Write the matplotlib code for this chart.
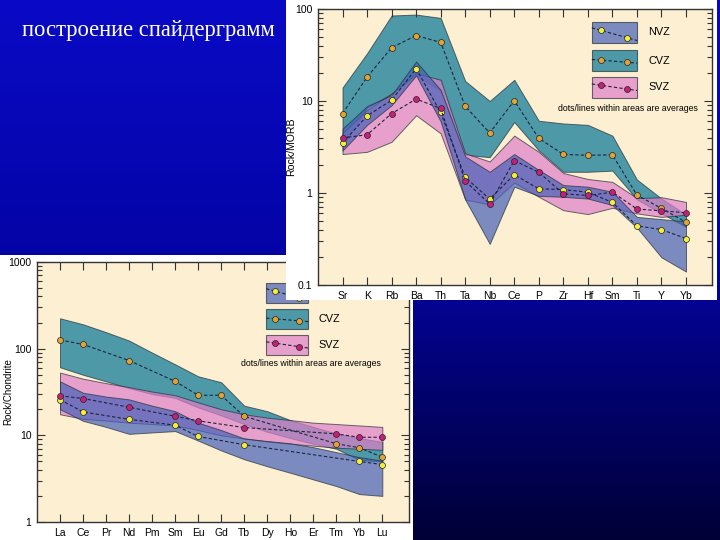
import numpy as np
import matplotlib.pyplot as plt
from matplotlib.patches import Rectangle
from matplotlib.colors import LinearSegmentedColormap
from matplotlib.ticker import FuncFormatter, LogLocator, NullFormatter

nan = np.nan

# ---- MORB-normalised spider (upper picture)
morb_cats = ['Sr', 'K', 'Rb', 'Ba', 'Th', 'Ta', 'Nb', 'Ce', 'P', 'Zr', 'Hf', 'Sm', 'Ti', 'Y', 'Yb']
morb_nvz_avg = [3.5, 6.9, 10.2, 22.5, 7.5, 1.48, 0.86, 1.58, 1.11, 1.09, 1.02, 0.79, 0.44, 0.40, 0.32]
morb_cvz_avg = [7.3, 18.2, 38, 51.5, 43.4, 8.75, 4.5, 10.1, 3.93, 2.63, 2.57, 2.6, 0.95, 0.68, 0.48]
morb_svz_avg = [3.96, 4.3, 7.3, 10.5, 8.3, 1.35, 0.76, 2.25, 1.68, 0.98, 0.94, 1.02, 0.67, 0.64, 0.61]
morb_nvz_hi = [5.0, 8.8, 11.6, 26.8, 13.2, 2.5, 1.7, 2.65, 1.78, 1.22, 1.17, 1.03, 0.55, 0.52, 0.49]
morb_nvz_lo = [2.9, 5.5, 9.0, 19, 6.0, 0.85, 0.28, 1.17, 0.93, 0.91, 0.87, 0.74, 0.42, 0.20, 0.14]
morb_cvz_hi = [14, 33, 85, 87, 80, 16.5, 10, 17, 6.1, 5.7, 5.5, 4.2, 1.4, 0.87, 0.58]
morb_cvz_lo = [3.2, 8.5, 12, 19, 13, 2.6, 2.45, 5.9, 2.9, 1.7, 1.7, 1.75, 0.85, 0.60, 0.43]
morb_svz_hi = [4.5, 8.0, 12, 20, 17, 2.7, 2.2, 4.2, 2.8, 1.65, 1.42, 1.32, 0.88, 0.90, 0.80]
morb_svz_lo = [2.65, 2.8, 3.6, 7.0, 4.45, 0.85, 0.75, 1.3, 0.91, 0.65, 0.59, 0.69, 0.60, 0.55, 0.58]

# ---- chondrite-normalised REE (lower picture)
ree_cats = ['La', 'Ce', 'Pr', 'Nd', 'Pm', 'Sm', 'Eu', 'Gd', 'Tb', 'Dy', 'Ho', 'Er', 'Tm', 'Yb', 'Lu']
ree_nvz_avg = [25.9, 18.6, nan, 15.3, nan, 13.1, 9.7, nan, 7.8, nan, nan, nan, nan, 5.0, 4.6]
ree_cvz_avg = [126, 112, nan, 73, nan, 42, 29, 29, 16.6, nan, nan, nan, 8.0, 7.2, 5.6]
ree_svz_avg = [28.6, 26.6, nan, 21.1, nan, 16.6, 14.7, nan, 12.3, nan, nan, nan, 10.4, 9.5, 9.5]
ree_nvz_hi = [42, 31, 28, 26, 22, 19, 14, 11.5, 9.2, 8.6, 8.1, 7.3, 6.4, 5.6, 5.1]
ree_nvz_lo = [20, 14.7, 12.5, 10.4, 10.8, 11.2, 8.7, 6.7, 5.3, 4.4, 3.7, 3.1, 2.6, 2.1, 2.0]
ree_cvz_hi = [224, 191, 155, 124, 90, 66, 48, 41, 22, 19, 15, 12.5, 10.5, 9.3, 8.4]
ree_cvz_lo = [61, 50, 42, 35, 30, 27, 21, 17, 13.5, 11, 9.3, 8.0, 7.0, 5.2, 5.0]
ree_svz_hi = [53, 45, 40, 36, 32, 29, 24, 20, 17.5, 16, 15, 14, 13.5, 13, 12.5]
ree_svz_lo = [17.5, 15.5, 14.8, 14, 13.5, 13, 11.5, 10, 9.2, 8.5, 8.0, 7.6, 7.2, 7.0, 6.8]

zones = ['NVZ', 'CVZ', 'SVZ']
fill_col = {'NVZ': '#4561B8', 'CVZ': '#037596', 'SVZ': '#DF7EC9'}
dot_col = {'NVZ': '#F2EE3A', 'CVZ': '#E2A334', 'SVZ': '#C4207A'}
cream = '#FDF0D2'
W, H = 720, 540


def box(x0, y0, x1, y1):
    # pixel box, top-left origin -> figure rect
    return [x0 / W, 1 - y1 / H, (x1 - x0) / W, (y1 - y0) / H]


def spider(ax, cats, rng, avg, ylim, ylabel, xmax, lab_x, lab_fs):
    x = np.arange(1, len(cats) + 1)
    for z in ['CVZ', 'SVZ', 'NVZ']:
        lo, hi = rng[z]
        ax.fill_between(x, lo, hi, facecolor=fill_col[z], alpha=0.7,
                        edgecolor='#26303a', lw=0.7)
    for z in ['NVZ', 'CVZ', 'SVZ']:
        v = np.array(avg[z], dtype=float)
        ok = ~np.isnan(v)
        ax.plot(x[ok], v[ok], ls=(0, (3, 2)), color='#1c2340', lw=0.8,
                marker='o', ms=4.3, mfc=dot_col[z], mec='#222222', mew=0.5)
    ax.set_yscale('log')
    ax.set_ylim(*ylim)
    ax.set_xlim(0, xmax)
    ax.set_xticks(x)
    ax.set_xticklabels(cats)
    ax.yaxis.set_major_locator(LogLocator(base=10))
    ax.yaxis.set_minor_locator(LogLocator(base=10, subs=np.arange(2, 10)))
    ax.yaxis.set_major_formatter(FuncFormatter(lambda v, p: f'{v:g}'))
    ax.yaxis.set_minor_formatter(NullFormatter())
    ax.tick_params(which='both', direction='in', top=True, right=True,
                   labelsize=7.5, color='#333333', width=0.8)
    ax.tick_params(which='major', length=6, pad=4)
    ax.tick_params(which='minor', length=3.5)
    ax.set_ylabel(ylabel, fontsize=lab_fs)
    ax.yaxis.set_label_coords(lab_x, 0.5)
    ax.set_facecolor(cream)
    for s in ax.spines.values():
        s.set_color('#333333')
        s.set_linewidth(1)


def key(ax, bx0, bx1, rows, tx, note):
    # legend swatches drawn in axes fraction
    for z, (yb, yt) in zip(zones, rows):
        ax.add_patch(Rectangle((bx0, yb), bx1 - bx0, yt - yb, transform=ax.transAxes,
                               facecolor=fill_col[z], alpha=0.7, edgecolor='#26303a',
                               lw=0.8, zorder=5))
        h = yt - yb
        d = {'NVZ': (0.6, 0.25), 'CVZ': (0.52, 0.42), 'SVZ': (0.6, 0.42)}[z]
        xs = np.array([bx0, bx0 + 0.2 * (bx1 - bx0), bx0 + 0.78 * (bx1 - bx0), bx1])
        k = (d[1] - d[0]) / 0.58
        ys = yb + h * (d[0] + k * (np.array([0, 0.2, 0.78, 1.0]) - 0.2))
        ax.plot(xs, ys, transform=ax.transAxes, ls=(0, (3, 2)), color='#1c2340',
                lw=0.8, zorder=6, clip_on=False)
        ax.plot(xs[1:3], ys[1:3], transform=ax.transAxes, ls='none', marker='o',
                ms=4.3, mfc=dot_col[z], mec='#222222', mew=0.5, zorder=7)
        ax.text(tx, (yb + yt) / 2, z, transform=ax.transAxes, fontsize=7.8,
                va='center', ha='left', zorder=7)
    ax.text(note[0], note[1], 'dots/lines within areas are averages',
            transform=ax.transAxes, fontsize=6.3, ha='center', va='center', zorder=7)


plt.rcParams['font.family'] = ['Liberation Sans', 'DejaVu Sans']
fig = plt.figure(figsize=(7.2, 5.4), dpi=100)

# slide background
bg = fig.add_axes([0, 0, 1, 1], zorder=0)
grad = np.linspace(0, 1, 256)[:, None]
cmap = LinearSegmentedColormap.from_list(
    'slide', [(0, '#0A0AC6'), (0.45, '#0404A8'), (1, '#000036')])
bg.imshow(grad, aspect='auto', cmap=cmap, extent=[0, 1, 0, 1])
bg.set_axis_off()

fig.text(22 / W, 1 - 31 / H, 'построение спайдерграмм', color='white', fontsize=16.3,
         family=['Liberation Serif', 'DejaVu Serif'], va='center', ha='left', zorder=10)

# lower picture
fig.patches.append(Rectangle(box(0, 255, 413, 540)[:2], 413 / W, 285 / H,
                             transform=fig.transFigure, facecolor='white',
                             edgecolor='none', zorder=1))
ax2 = fig.add_axes(box(37, 262, 409, 522), zorder=2)
spider(ax2, ree_cats,
       {'NVZ': (ree_nvz_lo, ree_nvz_hi), 'CVZ': (ree_cvz_lo, ree_cvz_hi),
        'SVZ': (ree_svz_lo, ree_svz_hi)},
       {'NVZ': ree_nvz_avg, 'CVZ': ree_cvz_avg, 'SVZ': ree_svz_avg},
       (1, 1000), 'Rock/Chondrite', 16.16, -0.063, 7)
key(ax2, 0.616, 0.729, [(0.844, 0.918), (0.741, 0.819), (0.642, 0.719)], 0.756, (0.737, 0.608))

# upper picture
fig.patches.append(Rectangle(box(286, 0, 717, 300)[:2], 431 / W, 300 / H,
                             transform=fig.transFigure, facecolor='white',
                             edgecolor='none', zorder=3))
ax1 = fig.add_axes(box(318, 9, 712, 285), zorder=4)
spider(ax1, morb_cats,
       {'NVZ': (morb_nvz_lo, morb_nvz_hi), 'CVZ': (morb_cvz_lo, morb_cvz_hi),
        'SVZ': (morb_svz_lo, morb_svz_hi)},
       {'NVZ': morb_nvz_avg, 'CVZ': morb_cvz_avg, 'SVZ': morb_svz_avg},
       (0.1, 100), 'Rock/MORB', 16.06, -0.056, 7.6)
key(ax1, 0.695, 0.81, [(0.877, 0.953), (0.775, 0.851), (0.678, 0.754)], 0.838, (0.787, 0.641))

fig.savefig('out.png', dpi=100)
